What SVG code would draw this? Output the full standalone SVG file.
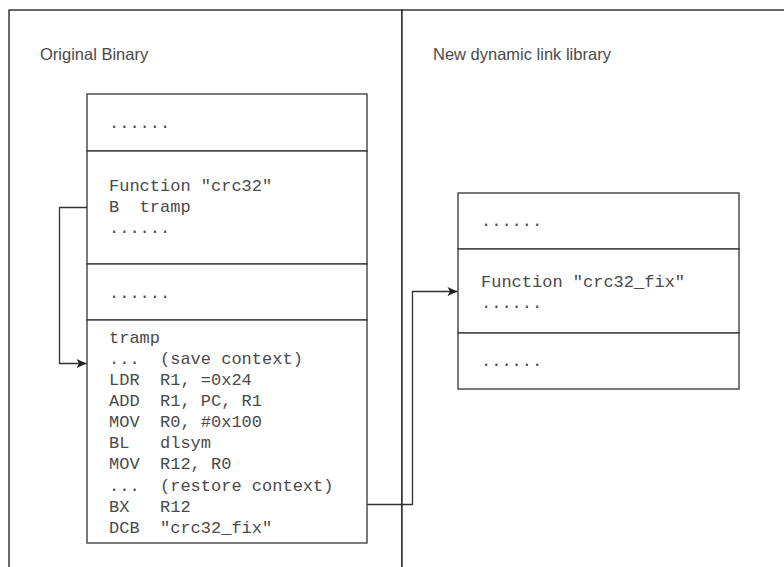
<svg xmlns="http://www.w3.org/2000/svg" width="784" height="567" viewBox="0 0 784 567">
  <style>
    .container { fill: #ffffff; stroke: #1a1a1a; stroke-width: 1.3; }
    .cell { fill: #ffffff; stroke: #333333; stroke-width: 1.3; }
    .title { font-family: "Liberation Sans", Arial, sans-serif; font-size: 16.5px; fill: #4a4a4a; }
    .code { font-family: "Liberation Mono", "DejaVu Sans Mono", monospace; font-size: 17px; fill: #4a4a4a; white-space: pre; }
    .link { fill: none; stroke: #333333; stroke-width: 1.3; }
  </style>
  <defs>
    <marker id="arrow" markerWidth="12" markerHeight="12" refX="11" refY="6" orient="auto" markerUnits="userSpaceOnUse">
      <path d="M1,1.5 L11,6 L1,10.5 L3.5,6 Z" fill="#222222"/>
    </marker>
  </defs>

  <rect width="784" height="567" fill="#ffffff"/>

  <!-- Left swimlane: original binary -->
  <g id="original-binary">
    <rect class="container" x="9" y="10" width="393" height="600"/>
    <text class="title" x="40" y="60">Original Binary</text>
  </g>

  <!-- Right swimlane: new library -->
  <g id="new-library">
    <rect class="container" x="402" y="10" width="400" height="600"/>
    <text class="title" x="433" y="60">New dynamic link library</text>
  </g>

  <!-- Sections of the original binary -->
  <g id="bin-head">
    <rect class="cell" x="87" y="94" width="280" height="57"/>
    <text class="code" x="109" y="128">......</text>
  </g>
  <g id="bin-crc32">
    <rect class="cell" x="87" y="151" width="280" height="113"/>
    <text class="code" x="109" y="191">Function "crc32"</text>
    <text class="code" x="109" y="212">B  tramp</text>
    <text class="code" x="109" y="233">......</text>
  </g>
  <g id="bin-mid">
    <rect class="cell" x="87" y="264" width="280" height="56"/>
    <text class="code" x="109" y="298">......</text>
  </g>
  <g id="bin-tramp">
    <rect class="cell" x="87" y="320" width="280" height="223"/>
    <text class="code" x="109" y="343">tramp</text>
    <text class="code" x="109" y="364">...  (save context)</text>
    <text class="code" x="109" y="385">LDR  R1, =0x24</text>
    <text class="code" x="109" y="406">ADD  R1, PC, R1</text>
    <text class="code" x="109" y="427">MOV  R0, #0x100</text>
    <text class="code" x="109" y="448">BL   dlsym</text>
    <text class="code" x="109" y="469">MOV  R12, R0</text>
    <text class="code" x="109" y="491">...  (restore context)</text>
    <text class="code" x="109" y="512">BX   R12</text>
    <text class="code" x="109" y="533">DCB  "crc32_fix"</text>
  </g>

  <!-- Sections of the new library -->
  <g id="lib-head">
    <rect class="cell" x="458" y="193" width="281" height="56"/>
    <text class="code" x="481" y="226">......</text>
  </g>
  <g id="lib-crc32-fix">
    <rect class="cell" x="458" y="249" width="281" height="84"/>
    <text class="code" x="481" y="287">Function "crc32_fix"</text>
    <text class="code" x="481" y="308">......</text>
  </g>
  <g id="lib-tail">
    <rect class="cell" x="458" y="333" width="281" height="56"/>
    <text class="code" x="481" y="366">......</text>
  </g>

  <!-- Control-flow connectors -->
  <g id="connectors">
    <path class="link" d="M87,207.5 H59.5 V363.5 H86.5" marker-end="url(#arrow)"/>
    <path class="link" d="M367,504.5 H412.5 V291.5 H457.5" marker-end="url(#arrow)"/>
  </g>
</svg>
